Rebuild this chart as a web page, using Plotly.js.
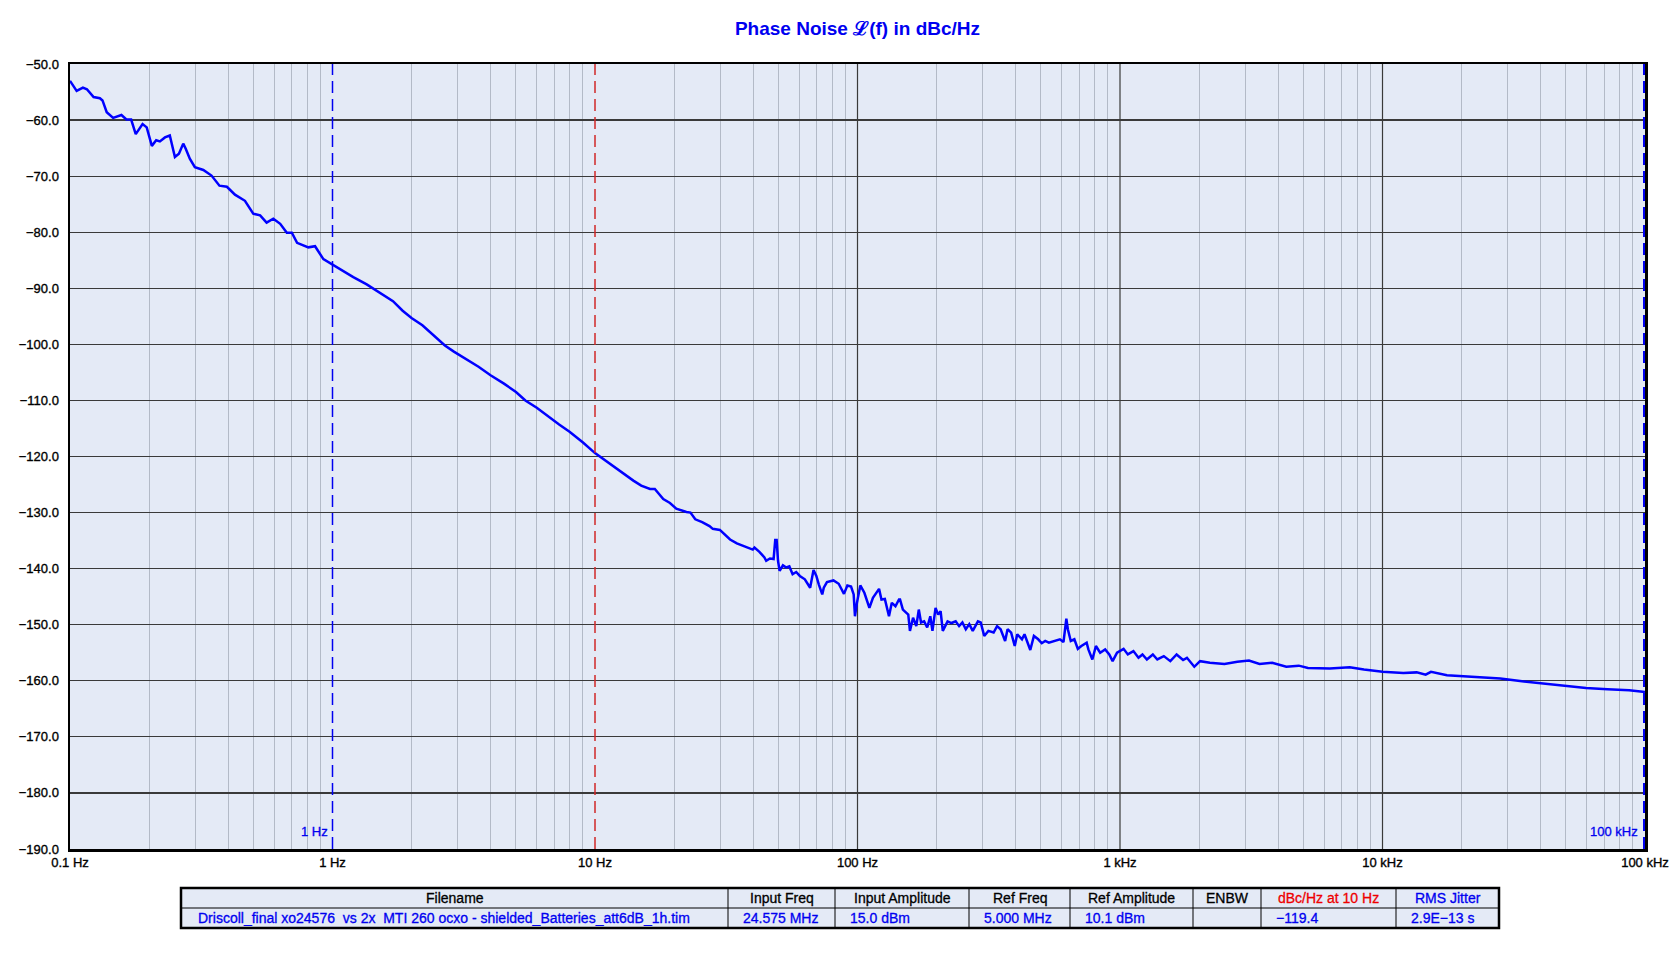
<!DOCTYPE html>
<html><head><meta charset="utf-8">
<script src="https://cdn.plot.ly/plotly-3.0.1.min.js"></script>
<style>
html,body{margin:0;padding:0;background:#fff;}
#chart{width:1680px;height:967px;}
#chart .xtick text, #chart .ytick text {stroke: #000; stroke-width: 0.35px;}
</style>
</head><body><div id="chart"></div>
<script>
// ---------- DATA ----------
const freqHz = [
  0.1,0.106,0.112,0.116,0.123,0.130,0.133,0.138,0.146,0.157,0.164,0.171,0.178,0.189,0.196,0.205,0.213,0.220,0.230,0.240,
  0.251,0.260,0.270,0.276,0.286,0.299,0.322,0.346,0.371,0.396,0.425,0.464,0.499,0.530,0.561,0.595,0.632,0.670,0.700,0.733,
  0.809,0.858,0.923,
  1.0,1.1,1.2,1.35,1.46,1.6,1.7,1.85,2.0,2.2,2.4,2.68,2.9,3.2,3.6,4.0,4.5,5.0,5.43,6.0,6.6,7.3,8.0,9.0,10,11.5,12.8,14,15,
  16.2,16.9,18.2,19.3,20.4,22.3,23.1,24.1,25.6,27.3,28.1,29.9,32.7,34.7,37.5,39.9,40.5,42.3,44.2,44.9,46.4,47.9,48.6,49.2,
  49.8,50.5,52.0,53.5,55.0,56.6,58.4,60.3,63.0,66.0,68.0,69.7,71.2,73.4,74.4,76.5,81.0,84.8,88.8,91.5,94.5,96.7,97.8,99.5,
  102.5,106.2,111.0,114.5,120.8,123.4,127.1,131.8,135.1,139.5,143.9,
  145.2,148.9,156.1,158.4,162.8,167.5,171.2,174.6,179.4,184.3,189.4,193.0,198.3,202.8,207.3,211.3,220.4,228.0,236.6,243.8,
  251.0,258.6,266.6,274.8,287.6,294.7,303.9,315.2,330.0,340.2,350.9,365.1,373.0,384.9,397.2,406.0,423.2,432.7,443.7,455.2,
  469.9,487.9,503.4,518.9,535.9,562.3,590.2,609.1,624.6,632.9,649.3,670.1,690.8,712.6,746.4,757.8,784.6,809.5,840.3,877.9,
  910.1,937.2,974.5,1032,1071,1125,1176,1218,1266,1334,1387,1469,1555,1643,1739,1799,1919,2018,
  2200,2500,2800,3100,3400,3800,4300,4800,5200,6300,7500,8500,10000,12000,13500,14600,15300,17600,21200,24000,28100,34000,
  41000,49400,59600,72000,87000,100000
];
const noiseDbc = [
  -53.0,-54.8,-54.2,-54.5,-55.9,-56.1,-56.5,-58.6,-59.6,-59.1,-59.9,-59.9,-62.5,-60.7,-61.3,-64.6,-63.6,-63.8,-63.1,-62.75,
  -66.6,-66.0,-64.2,-65.1,-66.9,-68.4,-68.9,-69.9,-71.7,-71.9,-73.3,-74.4,-76.7,-77.0,-78.3,-77.6,-78.5,-80.1,-80.1,-81.9,
  -82.7,-82.5,-84.8,
  -85.8,-87.0,-88.0,-89.3,-90.3,-91.5,-92.3,-94.0,-95.3,-96.6,-98.2,-100.2,-101.3,-102.5,-104.0,-105.5,-107.0,-108.5,-110.0,-111.3,
  -112.8,-114.3,-115.6,-117.5,-119.4,-121.5,-123.0,-124.3,-125.2,
  -125.8,-125.8,-127.6,-128.3,-129.3,-129.9,-130.0,-131.2,-131.7,-132.4,-132.9,-133.1,-134.8,-135.5,-136.1,-136.6,-136.25,-137.0,-138.0,-138.6,
  -138.2,-138.3,-134.9,-134.9,-138.6,-140.4,-139.4,-139.8,-139.6,-141.0,-140.6,-141.3,-141.9,-143.4,-140.25,-141.3,-142.8,-144.6,-143.4,-142.4,
  -142.1,-142.7,-144.5,-143.0,-143.2,-144.6,-148.5,-146.1,
  -143.0,-144.3,-147.0,-145.2,-143.6,-145.5,-145.4,-148.5,-146.1,-146.7,-145.5,
  -145.5,-147.3,-148.2,-151.1,-148.75,-150.25,-147.3,-149.6,-149.4,-150.5,-148.5,-151.1,-147.0,-148.2,-147.6,-151.1,-149.4,-149.7,-149.4,-150.25,
  -149.6,-150.8,-149.9,-151.1,-149.4,-149.6,-152.0,-151.1,-151.4,-150.25,-150.8,-152.9,-150.8,-151.4,-153.8,-151.7,-152.6,-151.7,-153.2,-154.5,
  -152.0,-152.6,-153.3,-152.9,-153.2,-152.9,-152.6,-153.1,-148.9,-150.8,-152.9,-152.6,-154.3,-153.8,-153.2,-154.4,-156.2,-153.8,-155.0,-154.4,
  -155.3,-156.5,-155.0,-154.3,-155.3,-154.7,-155.9,-155.3,-156.2,-155.3,-156.2,-155.6,-156.5,-155.3,-156.3,-155.9,-157.5,-156.5,
  -156.8,-157.0,-156.6,-156.4,-157.0,-156.8,-157.5,-157.3,-157.7,-157.8,-157.6,-158.0,-158.4,-158.6,-158.5,-158.9,-158.4,-159.0,-159.2,-159.4,-159.6,-160.1,
  -160.5,-160.9,-161.3,-161.5,-161.7,-162.0
];
const xTickVals = [0.1, 1, 10, 100, 1000, 10000, 100000];
const xTickText = ['0.1 Hz', '1 Hz', '10 Hz', '100 Hz', '1 kHz', '10 kHz', '100 kHz'];
const markerFreqs = [1, 10, 100000];
const markerLabels = ['1 Hz', '', '100 kHz'];
const tableHeaders = ['Filename', 'Input Freq', 'Input Amplitude', 'Ref Freq', 'Ref Amplitude', 'ENBW', 'dBc/Hz at 10 Hz', 'RMS Jitter'];
const tableValues = ['Driscoll_final xo24576\u00a0 vs 2x\u00a0 MTI 260 ocxo - shielded_Batteries_att6dB_1h.tim', '24.575 MHz', '15.0 dBm', '5.000 MHz', '10.1 dBm', '', '\u2212119.4', '2.9E\u221213 s'];

// ---------- LAYOUT ----------
const FONT = 'Liberation Sans, Arial, sans-serif';
const L = 70, R = 1645, T = 64, B = 849;
const px2x = x => (x - L) / (R - L);
const px2y = y => (B - y) / (B - T);
const BG = '#e4eaf6';
const BLUE = '#0000f0';

const minorVals = [];
for (let e = -1; e <= 4; e++) for (let k = 2; k <= 9; k++) minorVals.push(k * Math.pow(10, e));

const shapes = [];
const annotations = [];

// decade grid lines (not at marker lines / frame edges)
xTickVals.forEach((v, i) => {
  if (i === 0 || i === xTickVals.length - 1 || markerFreqs.indexOf(v) >= 0) return;
  shapes.push({type: 'line', xref: 'x', yref: 'paper', x0: v, x1: v, y0: 0, y1: 1,
    line: {color: '#3a3a3a', width: 1.2}, layer: 'below'});
});

// marker lines
const markerColors = ['#0000f0', '#d02828', '#0000f0'];
const markerWidths = [1.5, 1.5, 4];
markerFreqs.forEach((f, i) => {
  shapes.push({type: 'line', xref: 'x', yref: 'paper', x0: f, x1: f, y0: 0, y1: 1,
    line: {color: markerColors[i], width: markerWidths[i], dash: '12px,6px'}, layer: 'above'});
  if (markerLabels[i]) {
    annotations.push({xref: 'x', yref: 'paper', x: Math.log10(f), y: px2y(831), xanchor: 'right', yanchor: 'middle',
      xshift: i === 2 ? -5 : -3, text: markerLabels[i], showarrow: false,
      font: {family: FONT, size: 13, color: BLUE}});
  }
});

// table
const colEdges = [181, 728, 835, 969, 1070, 1193, 1261, 1396, 1499];
const rowTop = 888, rowMid = 908, rowBot = 928;
shapes.push({type: 'rect', xref: 'paper', yref: 'paper', x0: px2x(colEdges[0]), x1: px2x(colEdges[8]),
  y0: px2y(rowBot), y1: px2y(rowTop), fillcolor: BG, line: {color: '#000', width: 2.5}, layer: 'above'});
shapes.push({type: 'line', xref: 'paper', yref: 'paper', x0: px2x(colEdges[0]), x1: px2x(colEdges[8]),
  y0: px2y(rowMid), y1: px2y(rowMid), line: {color: '#000', width: 1}, layer: 'above'});
for (let i = 1; i < colEdges.length - 1; i++) {
  shapes.push({type: 'line', xref: 'paper', yref: 'paper', x0: px2x(colEdges[i]), x1: px2x(colEdges[i]),
    y0: px2y(rowBot), y1: px2y(rowTop), line: {color: '#000', width: 1}, layer: 'above'});
}
const headerColors = ['#000', '#000', '#000', '#000', '#000', '#000', '#ee0000', BLUE];
tableHeaders.forEach((h, i) => {
  annotations.push({xref: 'paper', yref: 'paper', x: px2x((colEdges[i] + colEdges[i + 1]) / 2), y: px2y((rowTop + rowMid) / 2),
    xanchor: 'center', yanchor: 'middle', text: h, showarrow: false, font: {family: FONT, size: 14, color: headerColors[i]}});
  if (tableValues[i]) {
    annotations.push({xref: 'paper', yref: 'paper', x: px2x(colEdges[i] + (i === 0 ? 15 : 13)), y: px2y((rowMid + rowBot) / 2),
      xanchor: 'left', yanchor: 'middle', text: tableValues[i], showarrow: false, font: {family: FONT, size: 14, color: BLUE}});
  }
});

const trace = {
  x: freqHz, y: noiseDbc, type: 'scatter', mode: 'lines',
  line: {color: '#0000ff', width: 2.5}, hoverinfo: 'skip', showlegend: false
};

const layout = {
  width: 1680, height: 967,
  margin: {l: L, r: 1680 - R, t: T, b: 967 - B, pad: 0},
  paper_bgcolor: '#ffffff', plot_bgcolor: BG,
  title: {text: '<b>Phase Noise \u2112(f) in dBc/Hz</b>', font: {family: FONT, size: 19, color: BLUE},
    x: 0.5, xref: 'paper', xanchor: 'center', y: 1 - 28 / 967, yref: 'container', yanchor: 'middle'},
  xaxis: {
    type: 'log', range: [-1, 5], tickmode: 'array', tickvals: xTickVals, ticktext: xTickText,
    showgrid: false, zeroline: false,
    showline: true, linecolor: '#000', linewidth: 2.5, mirror: true, ticks: '',
    tickfont: {family: FONT, size: 13, color: '#000'},
    minor: {tickmode: 'array', tickvals: minorVals, showgrid: true, gridcolor: '#b3bac7', gridwidth: 1, ticks: ''},
    fixedrange: true
  },
  yaxis: {
    range: [-190, -50], tickmode: 'linear', tick0: -50, dtick: 10, tickformat: '.1f',
    showgrid: true, gridcolor: '#3a3a3a', gridwidth: 1.2, zeroline: false,
    showline: true, linecolor: '#000', linewidth: 2.5, mirror: true, ticks: '', ticklabelstandoff: 6,
    tickfont: {family: FONT, size: 13, color: '#000'}, fixedrange: true
  },
  shapes: shapes,
  annotations: annotations
};

Plotly.newPlot('chart', [trace], layout, {staticPlot: true, displayModeBar: false}).then(gd => {
  // give annotation text a slight stroke in its own colour, to match the heavier rendering of the original
  gd.querySelectorAll('.annotation-text').forEach(t => {
    const fill = t.style.fill || window.getComputedStyle(t).fill;
    t.style.stroke = fill;
    t.style.strokeWidth = '0.3px';
  });
});
</script>
</body></html>
